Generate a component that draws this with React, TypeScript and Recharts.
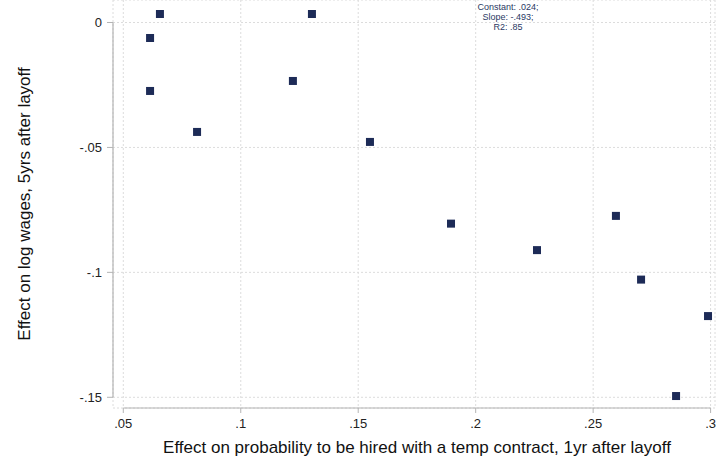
import React from "react";
import { ScatterChart, Scatter, XAxis, YAxis, CartesianGrid, ReferenceLine } from "recharts";

const xValues = [0.0656, 0.0614, 0.0614, 0.0814, 0.1222, 0.1303, 0.155, 0.1895, 0.2261, 0.2597, 0.2704, 0.2853, 0.2989];
const yValues = [0.0034, -0.0062, -0.0274, -0.0438, -0.0234, 0.0034, -0.0478, -0.0805, -0.0911, -0.0774, -0.1029, -0.1495, -0.1175];
const xTicks = [0.05, 0.1, 0.15, 0.2, 0.25, 0.3];
const yTicks = [0, -0.05, -0.1, -0.15];
const xTitle = "Effect on probability to be hired with a temp contract, 1yr after layoff";
const yTitle = "Effect on log wages, 5yrs after layoff";
const noteLines = ["Constant: .024;", "Slope: -.493;", "R2: .85"];

const data = xValues.map((x, i) => ({ x, y: yValues[i] }));

const X_DOMAIN: [number, number] = [0.04562, 0.30187];
const Y_DOMAIN: [number, number] = [-0.15429, 0.009005];

const FONT = "'Liberation Sans', Arial, Helvetica, sans-serif";
const NAVY = "#1d2b57";
const AXIS = "#b4b4b4";

const fmt = (v: number) => {
  if (v === 0) return "0";
  const s = String(Math.round(v * 1000) / 1000);
  return s.replace(/^(-?)0\./, "$1.");
};

const Square = (props: any) => {
  const { cx, cy } = props;
  if (cx == null || cy == null) return null;
  return <rect x={cx - 4} y={cy - 4} width={8} height={8} fill={NAVY} />;
};

export default function App() {
  return (
    <div style={{ position: "absolute", left: 0, top: 0, width: 717, height: 460, background: "#fff" }}>
      <ScatterChart width={717} height={460} margin={{ top: 0, right: 2, bottom: 0, left: 0 }}>
        <CartesianGrid stroke="#dcdcdc" strokeDasharray="2 2" />
        <XAxis
          type="number"
          dataKey="x"
          domain={X_DOMAIN}
          allowDataOverflow
          ticks={xTicks}
          tickFormatter={fmt}
          axisLine={false}
          tickLine={{ stroke: AXIS }}
          tickSize={5}
          tickMargin={6}
          height={52}
          tick={{ fontSize: 13, fill: "#222", fontFamily: FONT }}
        />
        <YAxis
          type="number"
          dataKey="y"
          domain={Y_DOMAIN}
          allowDataOverflow
          ticks={yTicks}
          tickFormatter={fmt}
          axisLine={false}
          tickLine={{ stroke: AXIS }}
          tickSize={6}
          tickMargin={5}
          width={113}
          tick={{ fontSize: 13, fill: "#222", fontFamily: FONT }}
        />
        <ReferenceLine
          segment={[{ x: 0.05, y: Y_DOMAIN[0] }, { x: 0.3, y: Y_DOMAIN[0] }]}
          stroke={AXIS}
          strokeWidth={1.2}
          ifOverflow="visible"
        />
        <ReferenceLine
          segment={[{ x: X_DOMAIN[0], y: 0 }, { x: X_DOMAIN[0], y: -0.15 }]}
          stroke={AXIS}
          strokeWidth={1.2}
          ifOverflow="visible"
        />
        <Scatter data={data} shape={Square} isAnimationActive={false} />
      </ScatterChart>
      <svg
        width={717}
        height={460}
        style={{ position: "absolute", left: 0, top: 0, pointerEvents: "none" }}
      >
        <text x={417} y={452.5} textAnchor="middle" fontSize={17} fontFamily={FONT} fill="#111">
          {xTitle}
        </text>
        <text
          x={30}
          y={204}
          transform="rotate(-90 30 204)"
          textAnchor="middle"
          fontSize={17}
          fontFamily={FONT}
          fill="#111"
        >
          {yTitle}
        </text>
        {noteLines.map((t, i) => (
          <text key={i} x={508} y={10.4 + i * 9.7} textAnchor="middle" fontSize={9} fontFamily={FONT} fill="#2a3863">
            {t}
          </text>
        ))}
      </svg>
    </div>
  );
}
